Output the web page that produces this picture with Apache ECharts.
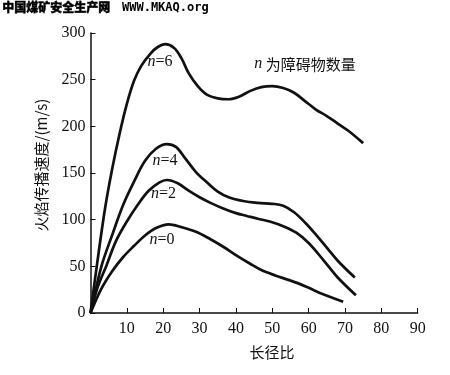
<!DOCTYPE html>
<html><head><meta charset="utf-8">
<script src="https://cdn.jsdelivr.net/npm/echarts@6/dist/echarts.min.js"></script>
<style>html,body{margin:0;padding:0;background:#fff}#c{width:450px;height:375px}</style>
</head><body><div id="c"></div>
<script>
// Data: [长径比, 火焰传播速度 (m/s)]
const n6 = [[0,0],[2,58],[4,112],[6,155],[8,192],[10,224],[12,249],[14,265],[16.5,278],[18.5,285],[20.5,288],[23,284],[25,273],[27,257],[29.5,243],[32,234],[35,230],[38,229],[41,232],[44,238],[47,242],[50,243],[53,241],[56,236],[59,227],[62,218],[65,211],[68,203],[71,195],[75,182]];
const n4 = [[0,0],[3,50],[6,84],[9,116],[12,141],[15,163],[18,176],[21,181],[23.5,178],[26,166],[29,151],[32,140],[35,130],[38,124],[42,120],[46,118],[50,117],[53,115],[56,108],[59,97],[62,84],[65,70],[68,56],[72.7,38]];
const n2 = [[0,0],[2,28],[4.4,51],[7,77],[10,98],[13,116],[16,131],[19,140],[21,142.5],[24,139],[27,131],[30,124],[33,118],[36.5,112],[40,107],[43,104],[46,101],[49.3,98],[53,93],[56.6,86],[60,75],[64,57],[68,38],[73,19]];
const n0 = [[0,0],[3,26],[6,45],[9,60],[12,72],[15,83],[18,91],[21.5,95],[25,92],[29,87],[33,79],[36.5,71],[40,62],[43.8,53],[47,46],[51,40],[54,36],[57,32],[60,27],[64,20],[69.5,12]];
const seriesNames = ['n=6','n=4','n=2','n=0'];
const xTicks = {min:0, max:90, interval:10};
const yTicks = {min:0, max:300, interval:50};

const chart = echarts.init(document.getElementById('c'));
const serif = 'Liberation Serif';
const mk = (name, data) => ({
  name, type:'line', data, smooth:0.35, showSymbol:false, symbol:'none',
  lineStyle:{color:'#111', width:2.7}, itemStyle:{color:'#111'}, animation:false
});
const nLabel = (x, y, txt, extraFont) => ({type:'text', x, y, style:{
  text:txt, align:'center', verticalAlign:'middle',
  rich:{i:{fontStyle:'italic', fontFamily:serif, fontSize:16, fill:'#111'}},
  font: extraFont || '16px "Liberation Serif"', fill:'#111'}});
chart.setOption({
  animation:false,
  backgroundColor:'#fff',
  grid:{left:90.5, right:32.3, top:33, bottom:62},
  xAxis:{type:'value', min:xTicks.min, max:xTicks.max, interval:xTicks.interval,
    axisLine:{lineStyle:{color:'#111', width:1.5}},
    axisTick:{inside:true, length:5, lineStyle:{color:'#111'}},
    splitLine:{show:false},
    axisLabel:{color:'#111', fontFamily:serif, fontSize:16, margin:8,
      formatter:v => v===0 ? '' : String(v)}},
  yAxis:{type:'value', min:yTicks.min, max:yTicks.max, interval:yTicks.interval,
    axisLine:{show:true, lineStyle:{color:'#111', width:1.5}},
    axisTick:{show:true, inside:true, length:5, lineStyle:{color:'#111'}},
    splitLine:{show:false},
    axisLabel:{color:'#111', fontFamily:serif, fontSize:16, margin:5}},
  series:[mk(seriesNames[0], n6), mk(seriesNames[1], n4), mk(seriesNames[2], n2), mk(seriesNames[3], n0)],
  graphic:[
    {type:'text', left:2, top:1, style:{text:'中国煤矿安全生产网', font:'900 12px "Noto Sans CJK SC"', fill:'#000', stroke:'#000', lineWidth:0.4}},
    {type:'text', left:122, top:2, style:{text:'WWW.MKAQ.org', font:'bold 12px "DejaVu Sans Mono"', fill:'#000'}},
    {type:'text', x:272, y:352, style:{text:'长径比', font:'15px "Noto Sans CJK SC"', fill:'#111', align:'center', verticalAlign:'middle'}},
    {type:'text', x:41, y:165, rotation:Math.PI/2, style:{text:'火焰传播速度/(m/s)', font:'15px "Noto Sans CJK SC"', fill:'#111', align:'center', verticalAlign:'middle'}},
    nLabel(160, 62, '{i|n}=6'),
    nLabel(165, 161, '{i|n}=4'),
    nLabel(163.5, 194, '{i|n}=2'),
    nLabel(162, 240, '{i|n}=0'),
    nLabel(305, 64, '{i|n} 为障碍物数量', '15px "Noto Sans CJK SC"')
  ]
});
</script></body></html>
